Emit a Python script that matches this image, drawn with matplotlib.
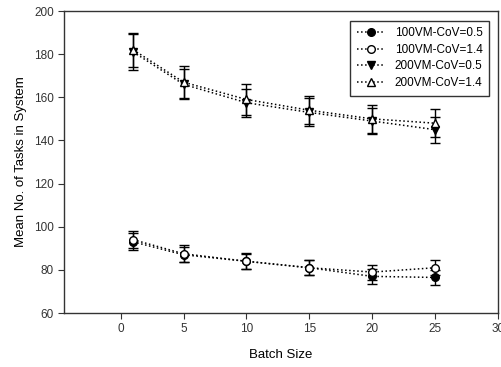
import matplotlib
matplotlib.use('Agg')
import matplotlib.pyplot as plt

plt.rcParams['font.family'] = ['Liberation Sans', 'DejaVu Sans']

batch = [1, 5, 10, 15, 20, 25]

vm100_cov05 = [93, 87, 84, 81, 77, 76.5]
vm100_cov05_err = [4, 3.5, 3.5, 3.5, 3.5, 3.5]
vm100_cov14 = [94, 87.5, 84, 81, 79, 81]
vm100_cov14_err = [4, 4, 3.8, 3.5, 3.5, 3.5]
vm200_cov05 = [181, 166, 157.5, 153, 149, 145]
vm200_cov05_err = [8.5, 7, 6.5, 6.5, 6, 6]
vm200_cov14 = [182, 167, 159, 154, 150, 148]
vm200_cov14_err = [8, 7.5, 7, 6.5, 6.5, 6.5]

series = [
    ('100VM-CoV=0.5', vm100_cov05, vm100_cov05_err, 'o', 'black'),
    ('100VM-CoV=1.4', vm100_cov14, vm100_cov14_err, 'o', 'white'),
    ('200VM-CoV=0.5', vm200_cov05, vm200_cov05_err, 'v', 'black'),
    ('200VM-CoV=1.4', vm200_cov14, vm200_cov14_err, '^', 'white'),
]

fig = plt.figure(figsize=(5.01, 3.67), dpi=100)
ax = fig.add_axes([0.128, 0.147, 0.866, 0.823])

for label, y, err, marker, face in series:
    ax.errorbar(batch, y, yerr=err, fmt=marker, linestyle=':', color='black',
                mfc=face, mec='black', ms=5.5, mew=1.0, lw=1.1, elinewidth=1.0,
                capsize=3.5, capthick=1.0, label=label)

ax.set_xlim(-4.5, 30)
ax.set_ylim(60, 200)
ax.set_xticks([0, 5, 10, 15, 20, 25, 30])
ax.set_yticks(range(60, 201, 20))
ax.tick_params(direction='out', length=4, labelsize=8.5, colors='#333333')
for s in ax.spines.values():
    s.set_linewidth(1.0)
    s.set_color('#333333')

ax.set_xlabel('Batch Size', fontsize=9.5, labelpad=10)
ax.set_ylabel('Mean No. of Tasks in System', fontsize=9.5, labelpad=5)

handles, labels = ax.get_legend_handles_labels()
handles = [h[0] for h in handles]
leg = ax.legend(handles, labels, loc='upper right', fancybox=False,
                edgecolor='black', fontsize=8.5, handlelength=2.4,
                borderpad=0.55, labelspacing=0.4, bbox_to_anchor=(0.993, 0.988))
leg.get_frame().set_linewidth(1.0)

fig.savefig('out.png', dpi=100)
